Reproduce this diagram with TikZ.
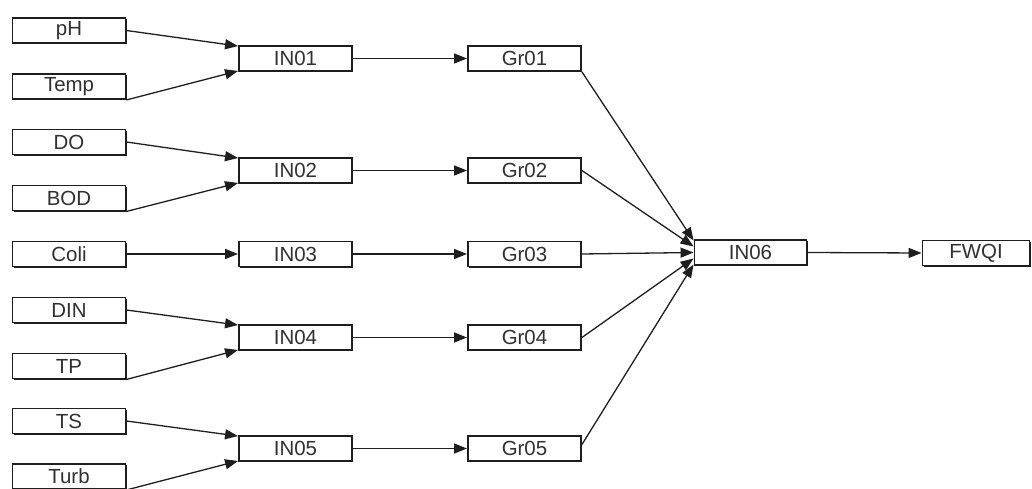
\documentclass[tikz,border=0pt]{standalone}
\usepackage{fontspec}
\setmainfont{Liberation Sans}
\usetikzlibrary{arrows.meta,shadows}
\definecolor{ink}{HTML}{1E1E1E}
\definecolor{txt}{HTML}{303030}
\begin{document}
\begin{tikzpicture}[x=1bp,y=-1bp,
  box/.style={draw=ink, line width=1.9bp, fill=white, minimum height=25bp, inner sep=0pt,
    font=\fontsize{20.5}{20.5}\selectfont, text=txt,
    drop shadow={shadow xshift=1.3bp, shadow yshift=-1.3bp, fill=ink, opacity=1}},
  inbox/.style={box, minimum width=113bp},
  midbox/.style={box, minimum width=113bp},
  link/.style={draw=ink, line width=1.3bp, -{Triangle[length=13bp,width=10bp]}}
]
\useasboundingbox (0,0) rectangle (1032,489);

% input parameters
\node[inbox] (pH)   at (69,30.5)  {pH};
\node[inbox] (Temp) at (69,86.5)  {Temp};
\node[inbox] (DO)   at (69,142)   {DO};
\node[inbox] (BOD)  at (69,198)   {BOD};
\node[inbox] (Coli) at (69,254)   {Coli};
\node[inbox] (DIN)  at (69,310)   {DIN};
\node[inbox] (TP)   at (69,366)   {TP};
\node[inbox] (TS)   at (69,421)   {TS};
\node[inbox] (Turb) at (69,476.5) {Turb};

% first level indices
\node[midbox] (IN01) at (295.5,58.5)  {IN01};
\node[midbox] (IN02) at (295.5,170.5) {IN02};
\node[midbox] (IN03) at (295.5,254)   {IN03};
\node[midbox] (IN04) at (295.5,337.5) {IN04};
\node[midbox] (IN05) at (295.5,448.5) {IN05};

% groups
\node[midbox] (Gr01) at (524.5,58.5)  {Gr01};
\node[midbox] (Gr02) at (524.5,170.5) {Gr02};
\node[midbox] (Gr03) at (524.5,254)   {Gr03};
\node[midbox] (Gr04) at (524.5,337.5) {Gr04};
\node[midbox] (Gr05) at (524.5,448.5) {Gr05};

% final
\node[box, minimum width=112bp] (IN06) at (750.5,252.5) {IN06};
\node[box, minimum width=107bp] (FWQI) at (976,253)   {FWQI};

% inputs -> first level
\draw[link] (pH.east)         -- ([yshift=-1bp]IN01.north west);
\draw[link] (Temp.south east) -- ([yshift=1bp]IN01.south west);
\draw[link] (DO.east)         -- ([yshift=-1bp]IN02.north west);
\draw[link] (BOD.south east)  -- ([yshift=1bp]IN02.south west);
\draw[link] (Coli.east)       -- (IN03.west);
\draw[link] (DIN.east)        -- ([yshift=-1bp]IN04.north west);
\draw[link] (TP.south east)   -- ([yshift=1bp]IN04.south west);
\draw[link] (TS.east)         -- ([yshift=-1bp]IN05.north west);
\draw[link] (Turb.south east) -- ([yshift=1bp]IN05.south west);

% first level -> groups
\draw[link] (IN01.east) -- (Gr01.west);
\draw[link] (IN02.east) -- (Gr02.west);
\draw[link] (IN03.east) -- (Gr03.west);
\draw[link] (IN04.east) -- (Gr04.west);
\draw[link] (IN05.east) -- (Gr05.west);

% groups -> IN06
\draw[link] (Gr01.south east) -- ([yshift=12bp]IN06.west);
\draw[link] (Gr02.east)       -- ([yshift=6bp]IN06.west);
\draw[link] (Gr03.east)       -- (IN06.west);
\draw[link] (Gr04.east)       -- ([yshift=-6bp]IN06.west);
\draw[link] ([yshift=4bp]Gr05.east) -- ([yshift=-12bp]IN06.west);

% IN06 -> FWQI
\draw[link] (IN06.east) -- (FWQI.west);
\end{tikzpicture}
\end{document}
